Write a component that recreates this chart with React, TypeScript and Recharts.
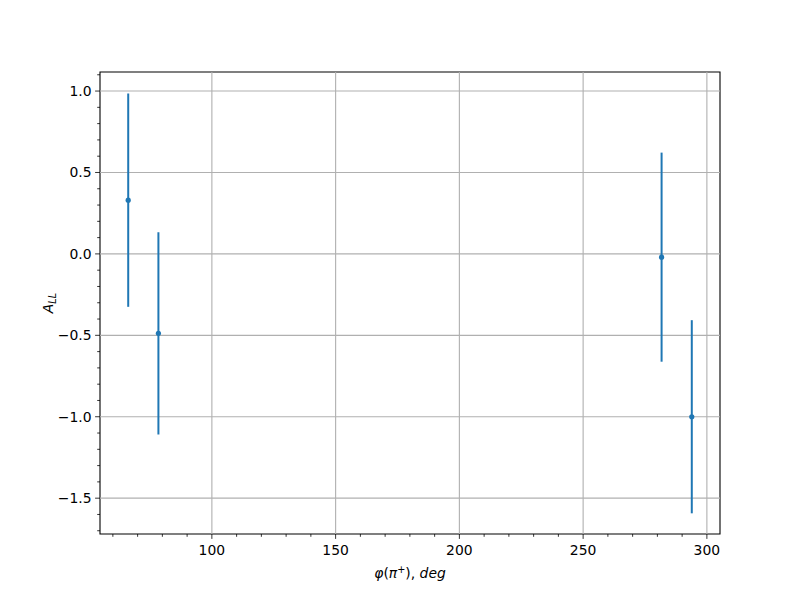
import {
  ErrorBar,
  ReferenceArea,
  ReferenceLine,
  Scatter,
  ScatterChart,
  XAxis,
  YAxis,
} from "recharts";

// azimuthal angle of pi+, deg
const phi = [66.2, 78.4, 281.7, 293.9];
// A_LL and its uncertainty
const all = [0.33, -0.488, -0.02, -1.0];
const allErr = [0.655, 0.621, 0.642, 0.593];

const xMajor = [100, 150, 200, 250, 300];
const xMinor = [60, 70, 80, 90, 110, 120, 130, 140, 160, 170, 180, 190, 210, 220, 230, 240, 260, 270, 280, 290];
const yMajor = [-1.5, -1.0, -0.5, 0.0, 0.5, 1.0];
const yMajorLabels = ["\u22121.5", "\u22121.0", "\u22120.5", "0.0", "0.5", "1.0"];
const yMinor = [-1.7, -1.6, -1.4, -1.3, -1.2, -1.1, -0.9, -0.8, -0.7, -0.6, -0.4, -0.3, -0.2, -0.1, 0.1, 0.2, 0.3, 0.4, 0.6, 0.7, 0.8, 0.9, 1.1];

const xDomain = [54.8, 305.3];
const yDomain = [-1.72, 1.117];

const BLUE = "#1f77b4";
const FONT = "'DejaVu Sans', sans-serif";

const data = phi.map((x, i) => ({ x, y: all[i], err: allErr[i] }));

function XTick({ x, y, payload }: any) {
  const major = xMajor.includes(payload.value);
  return (
    <g>
      <line x1={x} x2={x} y1={y} y2={y + (major ? 4.9 : 2.8)} stroke="#000" strokeWidth={0.8} />
      {major && (
        <text x={x} y={y + 21} textAnchor="middle" fontSize={13.9} fontFamily={FONT} fill="#000">
          {payload.value}
        </text>
      )}
    </g>
  );
}

function YTick({ x, y, payload }: any) {
  const idx = yMajor.findIndex((v) => Math.abs(v - payload.value) < 1e-9);
  const major = idx >= 0;
  return (
    <g>
      <line x1={x} x2={x - (major ? 4.9 : 2.8)} y1={y} y2={y} stroke="#000" strokeWidth={0.8} />
      {major && (
        <text x={x - 8.5} y={y + 5} textAnchor="end" fontSize={13.9} fontFamily={FONT} fill="#000">
          {yMajorLabels[idx]}
        </text>
      )}
    </g>
  );
}

const Dot = (props: any) => <circle cx={props.cx} cy={props.cy} r={2.6} fill={BLUE} />;

export default function App() {
  return (
    <div style={{ position: "absolute", left: 0, top: 0, width: 800, height: 600, background: "#fff" }}>
      <ScatterChart width={800} height={600} margin={{ top: 72, right: 80, left: 40, bottom: 36 }}>
        {xMajor.map((v) => (
          <ReferenceLine key={"gx" + v} x={v} stroke="#b0b0b0" strokeWidth={1.1} />
        ))}
        {yMajor.map((v) => (
          <ReferenceLine key={"gy" + v} y={v} stroke="#b0b0b0" strokeWidth={1.1} />
        ))}
        <XAxis
          type="number"
          dataKey="x"
          domain={xDomain}
          ticks={[...xMajor, ...xMinor].sort((a, b) => a - b)}
          tick={<XTick />}
          tickLine={false}
          tickSize={0}
          tickMargin={0}
          axisLine={false}
          height={30}
          interval={0}
          allowDataOverflow
        />
        <YAxis
          type="number"
          dataKey="y"
          domain={yDomain}
          ticks={[...yMajor, ...yMinor].sort((a, b) => a - b)}
          tick={<YTick />}
          tickLine={false}
          tickSize={0}
          tickMargin={0}
          axisLine={false}
          width={60}
          interval={0}
          allowDataOverflow
        />
        <ReferenceArea
          x1={xDomain[0]}
          x2={xDomain[1]}
          y1={yDomain[0]}
          y2={yDomain[1]}
          fill="none"
          stroke="#000"
          strokeWidth={1.1}
          ifOverflow="visible"
        />
        <Scatter data={data} fill={BLUE} shape={<Dot />} isAnimationActive={false}>
          <ErrorBar dataKey="err" direction="y" width={0} stroke={BLUE} strokeWidth={2} isAnimationActive={false} />
        </Scatter>
      </ScatterChart>
      <svg width={800} height={600} style={{ position: "absolute", left: 0, top: 0, pointerEvents: "none" }}>
        <text x={410} y={578} textAnchor="middle" fontSize={13.9} fontFamily={FONT} fill="#000">
          <tspan fontStyle="italic">φ</tspan>
          <tspan>(</tspan>
          <tspan fontStyle="italic">π</tspan>
          <tspan fontSize={9.7} dy={-5}>+</tspan>
          <tspan dy={5}>), </tspan>
          <tspan fontStyle="italic">deg</tspan>
        </text>
        <text transform="translate(53,303) rotate(-90)" textAnchor="middle" fontSize={13.9} fontFamily={FONT} fill="#000">
          <tspan fontStyle="italic">A</tspan>
          <tspan fontStyle="italic" fontSize={9.7} dy={3}>LL</tspan>
        </text>
      </svg>
    </div>
  );
}
